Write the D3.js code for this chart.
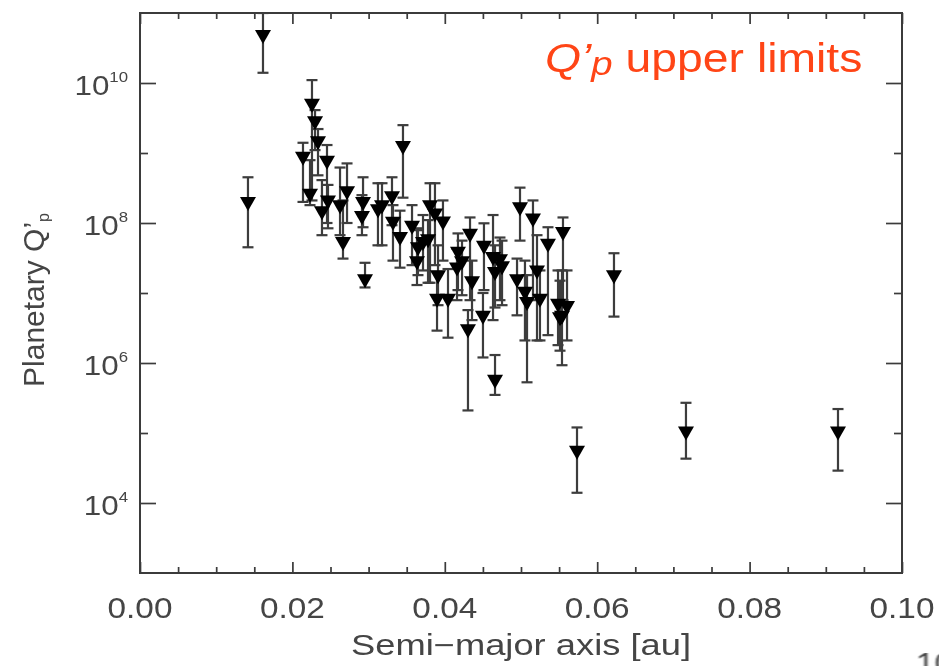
<!DOCTYPE html>
<html>
<head>
<meta charset="utf-8">
<script src="https://cdn.jsdelivr.net/npm/d3@7"></script>
<style>
  html, body { margin: 0; padding: 0; background: #fff; overflow: hidden; }
  text { font-family: "Liberation Sans", Arial, sans-serif; }
</style>
</head>
<body>
<svg id="chart" width="939" height="666"></svg>
<script>
// Semi-major axis of each planet [au]
const semiMajorAxis = [
  0.01417, 0.01614, 0.05735, 0.07165, 0.0916, 0.0622, 0.04659, 0.04304, 0.03898, 0.04042,
  0.02257, 0.02297, 0.02336, 0.02139, 0.02454, 0.02231, 0.02388, 0.02467, 0.02664, 0.02625,
  0.02717, 0.02927, 0.02913, 0.03123, 0.02953, 0.03451, 0.03307, 0.03176, 0.0332, 0.03412,
  0.03806, 0.03871, 0.03976, 0.0357, 0.03635, 0.03714, 0.0378, 0.03911, 0.04173, 0.0416,
  0.04331, 0.04357, 0.04987, 0.05157, 0.05354, 0.05551, 0.05538, 0.0521, 0.04948, 0.05052,
  0.05079, 0.05249, 0.05486, 0.05604, 0.05512, 0.04501, 0.04633, 0.04724, 0.04514, 0.04659,
  0.04751, 0.03648, 0.04226
];
// Upper limit on the planetary tidal quality factor Q'p
const qUpperLimit = [
  1.9e8, 4.6e10, 5.3e4, 1.0e5, 1.0e5, 1.7e7, 5.5e5, 2.9e6, 7.9e6, 7.9e6,
  4.8e9, 2.7e9, 1.4e9, 8.4e8, 7.4e8, 2.5e8, 1.4e8, 2.0e8, 5.1e7, 1.7e8,
  2.7e8, 1.9e8, 1.2e8, 1.5e8, 1.5e7, 1.2e9, 2.3e8, 1.7e8, 9.9e7, 6.0e7,
  1.7e8, 1.3e8, 1.0e8, 8.7e7, 2.7e7, 5.1e7, 5.6e7, 1.7e7, 3.7e7, 2.2e7,
  6.7e7, 1.4e7, 1.6e8, 1.1e8, 4.8e7, 7.1e7, 4.5e6, 2.0e7, 1.5e7, 9.9e6,
  7.1e6, 7.9e6, 6.7e6, 6.2e6, 4.3e6, 4.5e6, 3.1e7, 2.9e7, 4.5e7, 1.9e7,
  2.3e7, 4.3e7, 2.7e7
];
// Upper end of each error bar
const qErrHigh = [
  4.5e8, 1.0e11, 1.2e5, 2.7e5, 2.2e5, 3.7e7, 1.3e6, 5.7e6, 2.0e7, 2.2e7,
  1.1e10, 4.1e9, 2.2e9, 1.4e9, 1.3e9, 7.9e8, 4.1e8, 3.5e8, 2.1e8, 6.2e8,
  7.1e8, 4.5e8, 2.5e8, 3.7e8, 2.7e7, 2.5e9, 4.5e8, 3.7e8, 1.8e8, 1.5e8,
  3.7e8, 3.7e8, 2.1e8, 1.8e8, 7.9e7, 1.3e8, 1.1e8, 4.8e7, 7.1e7, 4.3e7,
  1.2e8, 2.9e7, 3.2e8, 2.1e8, 8.7e7, 1.2e8, 2.1e7, 6.7e7, 3.1e7, 2.9e7,
  1.8e7, 2.1e7, 2.1e7, 2.1e7, 1.5e7, 1.0e7, 1.3e8, 6.2e7, 9.9e7, 4.8e7,
  5.6e7, 8.4e7, 5.6e7
];
// Lower end of each error bar
const qErrLow = [
  4.5e7, 1.4e10, 1.4e4, 4.3e4, 2.9e4, 4.6e6, 3.5e5, 2.1e5, 2.9e6, 2.3e6,
  2.1e8, 1.1e9, 4.8e8, 2.0e8, 1.0e8, 1.8e8, 6.7e7, 8.4e7, 3.1e7, 6.7e7,
  1.0e8, 8.7e7, 6.7e7, 4.8e7, 1.2e7, 2.3e8, 9.3e7, 4.8e7, 2.9e7, 2.3e7,
  1.4e7, 2.5e7, 2.9e7, 2.5e7, 1.3e7, 2.1e7, 1.4e7, 6.7e6, 1.1e7, 7.9e6,
  7.9e6, 4.1e6, 5.6e7, 7.9e6, 2.5e6, 7.9e6, 9.3e5, 2.1e6, 4.8e6, 2.1e6,
  5.3e5, 2.1e6, 1.8e6, 2.1e6, 1.5e6, 1.2e6, 4.1e6, 7.9e6, 1.1e7, 6.2e6,
  6.7e6, 1.8e7, 9.3e6
];

const xMajorTicks = [0, 0.02, 0.04, 0.06, 0.08, 0.10];
const xTickLabels = ["0.00", "0.02", "0.04", "0.06", "0.08", "0.10"];
const xMinorTicks = d3.range(0, 0.1001, 0.005).filter(v => Math.abs(v / 0.02 - Math.round(v / 0.02)) > 1e-6);
const yMajorExponents = [4, 6, 8, 10];
const yMinorExponents = [5, 7, 9];

const svg = d3.select("#chart");
const box = { left: 140, right: 902, top: 13, bottom: 573 };

const x = d3.scaleLinear().domain([0, 0.1]).range([box.left, box.right]);
const y = d3.scaleLog().domain([1e3, 1e11]).range([box.bottom, box.top]);

const axisColor = "#3a3a3a";
const labelColor = "#444";

// soft rendering of the plot body
const defs = svg.append("defs");
defs.append("filter").attr("id", "soft")
  .attr("x", "-5%").attr("y", "-5%").attr("width", "110%").attr("height", "110%")
  .append("feGaussianBlur").attr("stdDeviation", 0.7);
defs.append("clipPath").attr("id", "plotClip")
  .append("rect").attr("x", box.left).attr("y", box.top)
  .attr("width", box.right - box.left).attr("height", box.bottom - box.top);

const body = svg.append("g").attr("filter", "url(#soft)");

// tick marks on all four sides, pointing inward
function drawTicks(axisGen, scale, values, size, translate) {
  const g = body.append("g").attr("transform", translate)
    .call(axisGen(scale).tickValues(values).tickSize(-size).tickSizeOuter(0).tickFormat(""));
  g.select(".domain").remove();
  g.selectAll(".tick line").attr("stroke", axisColor).attr("stroke-width", 1.7);
}
drawTicks(d3.axisBottom, x, xMajorTicks, 11, `translate(0,${box.bottom})`);
drawTicks(d3.axisBottom, x, xMinorTicks, 6, `translate(0,${box.bottom})`);
drawTicks(d3.axisTop, x, xMajorTicks, 11, `translate(0,${box.top})`);
drawTicks(d3.axisTop, x, xMinorTicks, 6, `translate(0,${box.top})`);
const yMajor = yMajorExponents.map(e => Math.pow(10, e));
const yMinor = yMinorExponents.map(e => Math.pow(10, e));
drawTicks(d3.axisLeft, y, yMajor, 16, `translate(${box.left},0)`);
drawTicks(d3.axisLeft, y, yMinor, 8, `translate(${box.left},0)`);
drawTicks(d3.axisRight, y, yMajor, 16, `translate(${box.right},0)`);
drawTicks(d3.axisRight, y, yMinor, 8, `translate(${box.right},0)`);

// frame
body.append("rect")
  .attr("x", box.left).attr("y", box.top)
  .attr("width", box.right - box.left).attr("height", box.bottom - box.top)
  .attr("fill", "none").attr("stroke", axisColor).attr("stroke-width", 2);

// x tick labels
body.append("g").selectAll("text").data(xMajorTicks).join("text")
  .attr("transform", d => `translate(${x(d)},618) scale(1.15,1)`)
  .attr("text-anchor", "middle")
  .attr("font-size", 29)
  .attr("fill", labelColor)
  .text((d, i) => xTickLabels[i]);

// y tick labels: 10 with a raised exponent
const yLab = body.append("g").selectAll("text").data(yMajorExponents).join("text")
  .attr("transform", e => `translate(128,${y(Math.pow(10, e)) + 12}) scale(1.12,1)`)
  .attr("text-anchor", "end")
  .attr("fill", labelColor);
yLab.append("tspan").attr("font-size", 28).text("10");
yLab.append("tspan").attr("font-size", 15).attr("dy", -13).text(e => e);

// axis titles
body.append("text")
  .attr("x", (box.left + box.right) / 2).attr("y", 655)
  .attr("text-anchor", "middle")
  .attr("font-size", 29)
  .attr("fill", labelColor)
  .attr("textLength", 340).attr("lengthAdjust", "spacingAndGlyphs")
  .text("Semi\u2212major axis [au]");

const yTitle = body.append("text")
  .attr("transform", "translate(44,300) rotate(-90)")
  .attr("text-anchor", "middle")
  .attr("font-size", 30)
  .attr("fill", labelColor);
yTitle.append("tspan").text("Planetary Q\u2019");
yTitle.append("tspan").attr("font-size", 16).attr("dy", 5).text("p");

// data: error bars first, then down-pointing triangles
const pts = semiMajorAxis.map((a, i) => ({ a, q: qUpperLimit[i], hi: qErrHigh[i], lo: qErrLow[i] }));
const marks = body.append("g").attr("clip-path", "url(#plotClip)");
const cap = 5.5;
const bars = marks.append("g").attr("stroke", "#3c3c3c").attr("stroke-width", 2.2);
pts.forEach(p => {
  const cx = x(p.a);
  bars.append("line").attr("x1", cx).attr("x2", cx).attr("y1", y(p.hi)).attr("y2", y(p.lo));
  bars.append("line").attr("x1", cx - cap).attr("x2", cx + cap).attr("y1", y(p.hi)).attr("y2", y(p.hi));
  bars.append("line").attr("x1", cx - cap).attr("x2", cx + cap).attr("y1", y(p.lo)).attr("y2", y(p.lo));
});
marks.append("g").selectAll("path").data(pts).join("path")
  .attr("transform", p => `translate(${x(p.a)},${y(p.q)})`)
  .attr("d", "M-8,-6.5L8,-6.5L0,7.5Z")
  .attr("fill", "#000");

// title
const title = svg.append("text")
  .attr("transform", "translate(545,72) scale(1.13,1)")
  .attr("font-size", 41)
  .attr("fill", "#ff4516");
title.append("tspan").attr("font-style", "italic").text("Q\u2019");
title.append("tspan").attr("font-style", "italic").attr("font-size", 34).attr("dy", 3).text("p");
title.append("tspan").attr("dy", -3).text(" upper limits");

// fragment of a label from beneath the figure
svg.append("text")
  .attr("transform", "translate(916,673) scale(1.15,1)")
  .attr("font-size", 29)
  .attr("fill", labelColor)
  .attr("filter", "url(#soft)")
  .text("10");
</script>
</body>
</html>
